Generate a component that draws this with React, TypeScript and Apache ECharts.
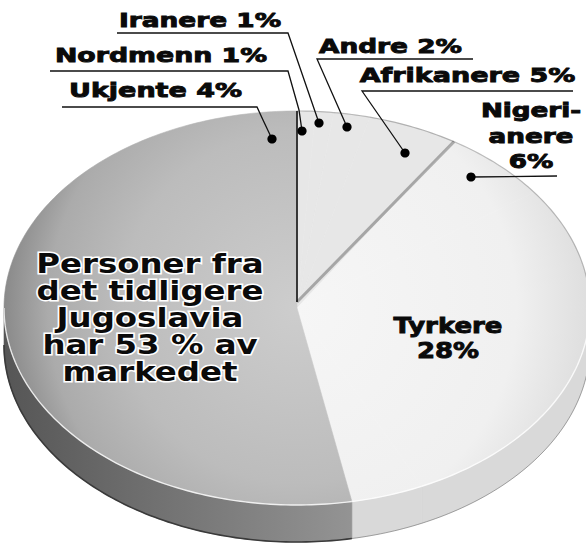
import React, { useEffect, useRef } from "react";
import * as echarts from "echarts";

// ---- data ----
const sliceNames = ["Nordmenn", "Iranere", "Andre", "Afrikanere", "Nigerianere", "Tyrkere", "Ukjente", "Jugoslavia"];
const sliceValues = [1, 1, 2, 5, 6, 28, 4, 53];
const labelNames = [
  "Nordmenn",
  "Iranere",
  "Andre",
  "Afrikanere",
  "Nigeri-\nanere",
  "Tyrkere",
  "Ukjente",
  "Personer fra\ndet tidligere\nJugoslavia\nhar {v} % av\nmarkedet",
];
const labelSeparators = [" ", " ", " ", " ", "\n", "\n", " ", ""];

// ---- layout / style ----
const CX = 297;
const CY = 308;
const RX = 293;
const RY = 197;
const DEPTH = 37;
const TAU = Math.PI * 2;
const FONT = "DejaVu Sans";

const labelLayout = [
  { x: 161, y: 55.5, size: 20, sx: 1.34, lh: 24, line: [[50, 71], [288, 71], [299, 110], [302, 131]] },
  { x: 200, y: 20, size: 20, sx: 1.32, lh: 24, line: [[117, 33], [288, 33], [319, 123]] },
  { x: 390.5, y: 46.5, size: 20, sx: 1.32, lh: 24, line: [[473, 59], [317, 59], [347, 127]] },
  { x: 467.5, y: 75.5, size: 20, sx: 1.35, lh: 24, line: [[573, 91], [362, 91], [405, 153]] },
  { x: 531, y: 136, size: 19, sx: 1.38, lh: 25.5, line: [[557, 176], [471, 177]] },
  { x: 448, y: 338, size: 22, sx: 1.18, lh: 25.5, line: null },
  { x: 155.5, y: 90, size: 20, sx: 1.35, lh: 24, line: [[62, 107], [257, 107], [263, 120], [272, 139]] },
  { x: 150, y: 317.5, size: 27, sx: 1.2, lh: 27.25, line: null, halo: true },
];

const darkTop = {
  type: "radial", x: CX, y: CY, r: RX, global: true,
  colorStops: [
    { offset: 0, color: "#cdcdcd" },
    { offset: 0.6, color: "#bcbcbc" },
    { offset: 0.85, color: "#ababab" },
    { offset: 1, color: "#8a8a8a" },
  ],
};
const lightTop = {
  type: "radial", x: CX, y: CY, r: RX, global: true,
  colorStops: [
    { offset: 0, color: "#f6f6f6" },
    { offset: 0.75, color: "#f0f0f0" },
    { offset: 1, color: "#dedede" },
  ],
};
const wedgeTop = "#e7e7e7";
const darkSide = {
  type: "linear", x: 0, y: 0, x2: 360, y2: 0, global: true,
  colorStops: [
    { offset: 0, color: "#555555" },
    { offset: 1, color: "#959595" },
  ],
};
const lightSide = "#d9d9d9";

const topFills = [wedgeTop, wedgeTop, wedgeTop, wedgeTop, lightTop, lightTop, lightTop, darkTop];
const sideFills = [lightSide, lightSide, lightSide, lightSide, lightSide, lightSide, lightSide, darkSide];
const startEdges = [
  { stroke: "#262626", lineWidth: 1.8 },
  null,
  null,
  null,
  { stroke: "rgba(0,0,0,0.28)", lineWidth: 3 },
  null,
  null,
  null,
];
const backRim = ["rgba(0,0,0,0.22)", "rgba(0,0,0,0.22)", "rgba(0,0,0,0.22)", "rgba(0,0,0,0.25)", "rgba(0,0,0,0.22)", "rgba(0,0,0,0.22)", "rgba(0,0,0,0.22)", null];

function pt(t: number, dy = 0): number[] {
  return [CX + RX * Math.sin(t), CY - RY * Math.cos(t) + dy];
}
function arc(t0: number, t1: number, dy = 0): number[][] {
  const n = Math.max(2, Math.ceil((t1 - t0) / (Math.PI / 180)) + 1);
  const pts: number[][] = [];
  for (let k = 0; k < n; k++) pts.push(pt(t0 + ((t1 - t0) * k) / (n - 1), dy));
  return pts;
}

function buildOption() {
  const starts: number[] = [];
  let acc = 0;
  const total = sliceValues.reduce((a, b) => a + b, 0);
  sliceValues.forEach((v) => {
    starts.push(acc);
    acc += v;
  });
  const data = sliceNames.map((n, i) => ({
    name: n,
    value: [(starts[i] / total) * 100, ((starts[i] + sliceValues[i]) / total) * 100],
  }));

  const faces = (params: any, api: any) => {
    const idx = params.dataIndex;
    const t0 = (api.value(0) / 100) * TAU;
    const t1 = (api.value(1) / 100) * TAU;
    const children: any[] = [];
    const f0 = Math.max(t0, Math.PI / 2);
    const f1 = Math.min(t1, 1.5 * Math.PI);
    if (f1 > f0) {
      const top = arc(f0, f1);
      const bottom = arc(f0, f1, DEPTH).reverse();
      children.push({
        type: "polygon",
        shape: { points: top.concat(bottom) },
        style: { fill: sideFills[idx], stroke: sideFills[idx], lineWidth: 0.6 },
      });
    }
    children.push({
      type: "polygon",
      shape: { points: [[CX, CY]].concat(arc(t0, t1)) },
      style: { fill: topFills[idx], stroke: topFills[idx], lineWidth: 0.6 },
    });
    return { type: "group", children };
  };

  const edges = (params: any, api: any) => {
    const idx = params.dataIndex;
    const t0 = (api.value(0) / 100) * TAU;
    const t1 = (api.value(1) / 100) * TAU;
    const children: any[] = [];
    const f0 = Math.max(t0, Math.PI / 2);
    const f1 = Math.min(t1, 1.5 * Math.PI);
    if (f1 > f0) {
      children.push({
        type: "polyline",
        shape: { points: arc(f0, f1) },
        style: { stroke: "rgba(255,255,255,0.8)", lineWidth: 1.4, fill: null },
      });
      children.push({
        type: "polyline",
        shape: { points: arc(f0, f1, DEPTH) },
        style: { stroke: idx === 7 ? "#3a3a3a" : "rgba(0,0,0,0.3)", lineWidth: idx === 7 ? 1.6 : 1, fill: null },
      });
    }
    const rim = backRim[idx];
    if (rim) {
      const segs: number[][] = [];
      if (t0 < Math.PI / 2) segs.push([t0, Math.min(t1, Math.PI / 2)]);
      if (t1 > 1.5 * Math.PI) segs.push([Math.max(t0, 1.5 * Math.PI), t1]);
      segs.forEach(([a, b]) => {
        children.push({
          type: "polyline",
          shape: { points: arc(a, b) },
          style: { stroke: rim, lineWidth: 1.2, fill: null },
        });
      });
    }
    const es = startEdges[idx];
    if (es) {
      const p = pt(t0);
      children.push({
        type: "line",
        shape: { x1: CX, y1: CY - 6, x2: p[0], y2: p[1] },
        style: { stroke: es.stroke, lineWidth: es.lineWidth },
      });
    }
    return { type: "group", children };
  };

  const graphic: any[] = [];
  sliceNames.forEach((_, i) => {
    const L: any = labelLayout[i];
    const nm = labelNames[i];
    const text = nm.indexOf("{v}") >= 0 ? nm.replace("{v}", String(sliceValues[i])) : nm + labelSeparators[i] + sliceValues[i] + "%";
    if (L.line) {
      graphic.push({
        type: "polyline",
        z: 100,
        shape: { points: L.line },
        style: { stroke: "#111", lineWidth: 1.3, fill: null },
      });
      const d = L.line[L.line.length - 1];
      graphic.push({ type: "circle", z: 101, shape: { cx: d[0], cy: d[1], r: 4.6 }, style: { fill: "#000" } });
    }
    graphic.push({
      type: "text",
      z: 102,
      x: L.x,
      y: L.y,
      scaleX: L.sx,
      style: {
        text,
        x: 0,
        y: 0,
        fill: "#0a0a0a",
        fontFamily: FONT,
        fontWeight: "bold",
        fontSize: L.size,
        lineHeight: L.lh,
        align: "center",
        verticalAlign: "middle",
        stroke: L.halo ? "#ffffff" : "#0a0a0a",
        lineWidth: L.halo ? 3 : 0.9,
      },
    });
  });

  return {
    animation: false,
    backgroundColor: "#ffffff",
    series: [
      { type: "custom", name: "faces", coordinateSystem: "none", renderItem: faces, data, z: 2, silent: true },
      { type: "custom", name: "edges", coordinateSystem: "none", renderItem: edges, data, z: 3, silent: true },
    ],
    graphic,
  };
}

export default function App() {
  const ref = useRef<HTMLDivElement>(null);
  useEffect(() => {
    if (!ref.current) return;
    const chart = echarts.init(ref.current, null, { renderer: "svg" });
    chart.setOption(buildOption() as any);
    return () => chart.dispose();
  }, []);
  return (
    <div
      ref={ref}
      style={{ position: "fixed", left: 0, top: 0, width: 586, height: 548, background: "#fff" }}
    />
  );
}
